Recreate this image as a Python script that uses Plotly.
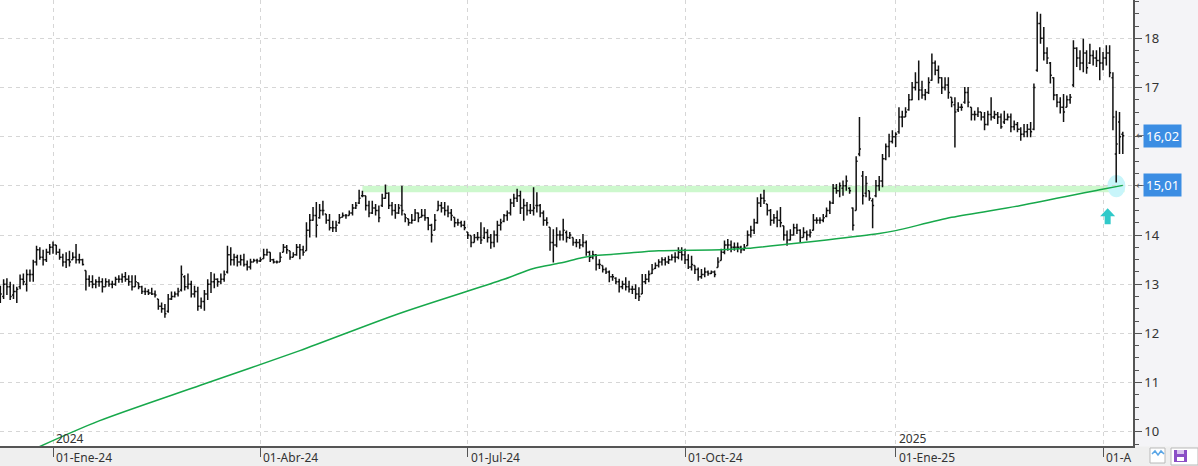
import plotly.graph_objects as go

# ---------------- data ----------------
opens = [
    12.9, 12.75, 13.0, 12.95, 12.78, 12.85, 12.95, 13.1, 13.0, 13.2,
    13.2, 13.45, 13.7, 13.55, 13.5, 13.65, 13.75, 13.8, 13.65, 13.55,
    13.45, 13.5, 13.5, 13.55, 13.5, 13.5, 13.28, 13.1, 13.05, 13.0,
    13.05, 13.05, 12.95, 13.05, 13.0, 13.0, 13.1, 13.1, 13.15, 13.1,
    13.05, 12.95, 13.03, 12.95, 12.85, 12.85, 12.82, 12.8, 12.7, 12.55,
    12.5, 12.45, 12.7, 12.75, 12.8, 12.88, 13.15, 12.95, 13.0, 12.8,
    12.85, 12.55, 12.65, 12.8, 13.0, 13.05, 13.1, 13.05, 13.1, 13.25,
    13.6, 13.5, 13.55, 13.45, 13.5, 13.4, 13.35, 13.45, 13.48, 13.47,
    13.52, 13.6, 13.65, 13.5, 13.45, 13.45, 13.65, 13.75, 13.68, 13.55,
    13.6, 13.75, 13.7, 13.68, 14.1, 14.3, 14.4, 14.35, 14.5, 14.43,
    14.3, 14.15, 14.15, 14.25, 14.36, 14.4, 14.4, 14.45, 14.55, 14.65,
    14.8, 14.8, 14.6, 14.45, 14.55, 14.5, 14.6, 14.75, 14.85, 14.6,
    14.5, 14.45, 14.6, 14.43, 14.33, 14.25, 14.3, 14.45, 14.36, 14.4,
    14.35, 14.2, 14.1, 14.5, 14.6, 14.55, 14.5, 14.45, 14.36, 14.25,
    14.25, 14.2, 14.06, 13.99, 13.85, 13.95, 13.95, 13.95, 14.05, 13.95,
    13.85, 14.0, 14.2, 14.28, 14.4, 14.45, 14.65, 14.75, 14.8, 14.55,
    14.6, 14.5, 14.5, 14.6, 14.6, 14.45, 14.3, 14.16, 13.85, 13.8,
    14.0, 14.0, 14.05, 13.95, 13.95, 13.85, 13.85, 13.8, 13.85, 13.65,
    13.55, 13.6, 13.4, 13.38, 13.3, 13.25, 13.15, 13.12, 13.05, 12.95,
    13.0, 12.95, 12.9, 12.9, 12.8, 12.8, 13.05, 13.1, 13.22, 13.32,
    13.38, 13.45, 13.5, 13.45, 13.5, 13.55, 13.55, 13.65, 13.6, 13.5,
    13.35, 13.38, 13.3, 13.15, 13.2, 13.25, 13.22, 13.25, 13.34, 13.48,
    13.65, 13.8, 13.8, 13.75, 13.75, 13.75, 13.7, 13.78, 14.0, 14.1,
    14.25, 14.65, 14.75, 14.63, 14.5, 14.3, 14.35, 14.3, 14.19, 14.0,
    13.9, 14.0, 14.15, 14.1, 13.95, 14.05, 14.0, 14.1, 14.3, 14.3,
    14.3, 14.38, 14.5, 14.65, 14.95, 14.9, 14.95, 15.0, 14.95, 14.55,
    14.5, 15.65, 15.2, 14.85, 14.9, 14.7, 14.8, 15.0, 15.1, 15.55,
    15.8, 15.9, 16.0, 16.1, 16.4, 16.4, 16.55, 16.75, 17.0, 17.1,
    16.95, 16.85, 16.9, 17.15, 17.5, 17.35, 17.2, 17.0, 17.05, 16.8,
    16.65, 16.55, 16.6, 16.7, 16.9, 16.6, 16.45, 16.45, 16.5, 16.4,
    16.25, 16.45, 16.4, 16.45, 16.4, 16.3, 16.35, 16.4, 16.2, 16.25,
    16.15, 16.05, 16.1, 16.15, 16.15, 17.35, 18.3, 18.0, 17.7, 17.5,
    17.2, 16.85, 16.7, 16.6, 16.6, 16.75, 17.05, 17.8, 17.6, 17.5,
    17.7, 17.5, 17.65, 17.6, 17.55, 17.5, 17.6, 17.7, 17.2, 15.65,
    16.3, 16.05,
]
highs = [
    12.97, 13.1, 13.12, 13.05, 13.0, 12.95, 13.2, 13.22, 13.3, 13.3,
    13.5, 13.78, 13.75, 13.7, 13.72, 13.82, 13.87, 13.8, 13.72, 13.62,
    13.65, 13.68, 13.65, 13.82, 13.62, 13.52, 13.28, 13.18, 13.18, 13.1,
    13.15, 13.12, 13.12, 13.1, 13.07, 13.15, 13.18, 13.22, 13.25, 13.18,
    13.18, 13.18, 13.03, 12.97, 12.93, 12.9, 12.93, 12.87, 12.7, 12.63,
    12.6, 12.8, 12.85, 12.85, 12.93, 13.38, 13.18, 13.22, 13.07, 12.97,
    12.95, 12.73, 12.88, 13.1, 13.25, 13.22, 13.12, 13.22, 13.28, 13.78,
    13.75, 13.62, 13.6, 13.6, 13.62, 13.48, 13.52, 13.52, 13.52, 13.55,
    13.72, 13.72, 13.65, 13.52, 13.48, 13.65, 13.82, 13.8, 13.68, 13.65,
    13.82, 13.82, 13.78, 14.26, 14.43, 14.57, 14.67, 14.63, 14.7, 14.43,
    14.43, 14.29, 14.29, 14.43, 14.46, 14.43, 14.5, 14.63, 14.67, 14.92,
    14.9, 14.8, 14.7, 14.7, 14.63, 14.6, 14.84, 15.03, 14.87, 14.67,
    14.63, 14.63, 15.0, 14.43, 14.33, 14.43, 14.53, 14.46, 14.53, 14.53,
    14.36, 14.23, 14.43, 14.7, 14.67, 14.67, 14.6, 14.53, 14.36, 14.33,
    14.29, 14.29, 14.06, 13.99, 14.02, 14.06, 14.26, 14.16, 14.12, 14.02,
    14.09, 14.29, 14.33, 14.43, 14.5, 14.74, 14.84, 14.94, 14.9, 14.74,
    14.67, 14.63, 14.97, 14.87, 14.63, 14.5, 14.36, 14.16, 14.12, 14.16,
    14.09, 14.33, 14.09, 14.06, 13.95, 13.92, 13.92, 14.02, 13.89, 13.68,
    13.68, 13.61, 13.51, 13.38, 13.34, 13.28, 13.21, 13.14, 13.11, 13.07,
    13.14, 13.07, 12.97, 13.0, 12.94, 13.21, 13.21, 13.28, 13.41, 13.44,
    13.51, 13.55, 13.55, 13.58, 13.61, 13.65, 13.75, 13.75, 13.72, 13.61,
    13.58, 13.38, 13.34, 13.31, 13.34, 13.28, 13.28, 13.28, 13.55, 13.72,
    13.89, 13.92, 13.89, 13.85, 13.85, 13.78, 13.82, 14.09, 14.19, 14.33,
    14.77, 14.84, 14.92, 14.63, 14.53, 14.43, 14.5, 14.57, 14.19, 14.09,
    14.12, 14.23, 14.23, 14.12, 14.16, 14.09, 14.12, 14.43, 14.36, 14.36,
    14.43, 14.56, 14.7, 15.04, 15.04, 15.07, 15.11, 15.21, 14.97, 14.56,
    15.6, 16.4, 15.3, 15.2, 14.9, 14.75, 15.12, 15.2, 15.65, 15.86,
    16.06, 16.13, 16.09, 16.6, 16.53, 16.6, 16.87, 17.11, 17.31, 17.55,
    17.14, 16.97, 17.21, 17.69, 17.55, 17.45, 17.21, 17.21, 17.21, 16.8,
    16.8, 16.7, 16.67, 17.01, 17.01, 16.6, 16.53, 16.6, 16.5, 16.5,
    16.53, 16.8, 16.53, 16.5, 16.47, 16.53, 16.47, 16.47, 16.33, 16.3,
    16.19, 16.26, 16.26, 16.3, 17.08, 18.54, 18.5, 18.23, 17.82, 17.52,
    17.21, 16.87, 16.8, 16.87, 16.84, 16.87, 17.96, 17.82, 17.76, 17.99,
    17.76, 17.89, 17.76, 17.76, 17.82, 17.72, 17.86, 17.86, 17.31, 16.53,
    16.5, 16.1,
]
lows = [
    12.62, 12.7, 12.78, 12.68, 12.7, 12.62, 12.9, 12.98, 12.85, 13.05,
    13.05, 13.38, 13.5, 13.38, 13.45, 13.6, 13.62, 13.6, 13.5, 13.36,
    13.33, 13.36, 13.5, 13.42, 13.42, 13.38, 12.87, 12.95, 12.92, 12.92,
    12.95, 12.83, 12.95, 12.95, 12.92, 12.97, 13.03, 13.03, 13.05, 12.97,
    12.87, 12.95, 12.9, 12.8, 12.78, 12.78, 12.78, 12.73, 12.48, 12.42,
    12.32, 12.42, 12.68, 12.73, 12.75, 12.85, 12.87, 12.9, 12.73, 12.73,
    12.46, 12.5, 12.46, 12.68, 12.82, 12.92, 12.95, 13.0, 13.05, 13.22,
    13.38, 13.38, 13.36, 13.38, 13.36, 13.28, 13.3, 13.45, 13.42, 13.45,
    13.52, 13.58, 13.45, 13.42, 13.42, 13.45, 13.65, 13.62, 13.5, 13.55,
    13.58, 13.51, 13.58, 13.68, 13.95, 14.29, 13.95, 14.33, 14.4, 14.23,
    14.09, 14.06, 14.06, 14.23, 14.36, 14.33, 14.4, 14.4, 14.53, 14.63,
    14.77, 14.5, 14.36, 14.43, 14.4, 14.26, 14.57, 14.74, 14.53, 14.4,
    14.33, 14.43, 14.4, 14.26, 14.19, 14.23, 14.29, 14.26, 14.36, 14.29,
    14.1, 13.85, 14.1, 14.5, 14.46, 14.4, 14.36, 14.29, 14.16, 14.19,
    14.16, 14.1, 13.92, 13.75, 13.85, 13.89, 13.82, 13.92, 13.85, 13.72,
    13.75, 13.85, 14.09, 14.26, 14.29, 14.4, 14.57, 14.67, 14.43, 14.29,
    14.4, 14.43, 14.4, 14.46, 14.36, 14.19, 14.19, 13.68, 13.44, 13.75,
    13.89, 13.89, 13.85, 13.92, 13.78, 13.75, 13.72, 13.75, 13.58, 13.45,
    13.51, 13.28, 13.31, 13.24, 13.21, 13.04, 13.07, 13.0, 12.83, 12.9,
    12.87, 12.83, 12.8, 12.7, 12.66, 12.8, 13.0, 13.04, 13.21, 13.31,
    13.34, 13.38, 13.38, 13.41, 13.48, 13.44, 13.51, 13.48, 13.41, 13.31,
    13.28, 13.21, 13.07, 13.11, 13.14, 13.17, 13.21, 13.14, 13.34, 13.48,
    13.61, 13.68, 13.65, 13.68, 13.65, 13.63, 13.68, 13.78, 13.95, 14.02,
    14.23, 14.57, 14.63, 14.4, 14.19, 14.23, 14.16, 14.16, 13.89, 13.78,
    13.89, 13.99, 14.02, 13.85, 13.95, 13.89, 13.95, 14.09, 14.23, 14.23,
    14.26, 14.36, 14.43, 14.63, 14.84, 14.77, 14.8, 14.9, 14.84, 14.09,
    14.5, 15.6, 14.62, 14.77, 14.7, 14.14, 14.77, 14.9, 14.97, 15.52,
    15.58, 15.86, 15.79, 16.06, 16.19, 16.4, 16.53, 16.74, 16.94, 16.74,
    16.77, 16.74, 16.87, 17.14, 17.25, 17.08, 16.87, 16.94, 16.77, 16.6,
    15.78, 16.5, 16.53, 16.67, 16.6, 16.33, 16.33, 16.4, 16.33, 16.13,
    16.23, 16.33, 16.36, 16.26, 16.16, 16.26, 16.33, 16.09, 16.13, 16.09,
    15.92, 15.99, 15.99, 15.99, 16.13, 17.32, 17.89, 17.55, 17.48, 17.08,
    16.74, 16.6, 16.47, 16.3, 16.6, 16.67, 17.01, 17.42, 17.35, 17.31,
    17.28, 17.48, 17.45, 17.42, 17.15, 17.35, 17.45, 17.21, 16.13, 15.07,
    15.65, 15.65,
]
closes = [
    12.8, 13.0, 12.95, 12.75, 12.85, 12.9, 13.1, 13.05, 13.2, 13.2,
    13.45, 13.7, 13.55, 13.5, 13.65, 13.75, 13.8, 13.65, 13.55, 13.45,
    13.5, 13.45, 13.55, 13.5, 13.5, 13.4, 13.1, 13.05, 13.0, 13.05,
    13.05, 12.95, 13.05, 13.0, 13.0, 13.1, 13.1, 13.15, 13.1, 13.05,
    12.95, 13.05, 12.95, 12.85, 12.85, 12.82, 12.8, 12.78, 12.55, 12.5,
    12.4, 12.7, 12.75, 12.8, 12.85, 13.2, 12.95, 13.0, 12.8, 12.85,
    12.55, 12.65, 12.8, 13.0, 13.05, 13.1, 13.05, 13.1, 13.2, 13.6,
    13.5, 13.55, 13.45, 13.5, 13.4, 13.35, 13.45, 13.48, 13.47, 13.5,
    13.6, 13.65, 13.5, 13.45, 13.45, 13.55, 13.75, 13.7, 13.55, 13.6,
    13.75, 13.7, 13.65, 14.1, 14.3, 14.4, 14.2, 14.5, 14.5, 14.3,
    14.15, 14.15, 14.2, 14.35, 14.4, 14.4, 14.45, 14.55, 14.6, 14.75,
    14.8, 14.6, 14.45, 14.55, 14.5, 14.35, 14.75, 14.85, 14.6, 14.5,
    14.45, 14.55, 14.5, 14.35, 14.25, 14.3, 14.45, 14.35, 14.4, 14.35,
    14.2, 14.0, 14.3, 14.6, 14.55, 14.5, 14.45, 14.4, 14.25, 14.25,
    14.2, 14.15, 14.0, 13.85, 13.95, 13.95, 13.9, 14.05, 13.95, 13.85,
    14.0, 14.2, 14.25, 14.4, 14.45, 14.65, 14.75, 14.8, 14.55, 14.6,
    14.5, 14.5, 14.55, 14.6, 14.45, 14.3, 14.25, 13.85, 13.8, 14.0,
    14.0, 14.1, 13.95, 14.0, 13.85, 13.85, 13.8, 13.85, 13.65, 13.55,
    13.6, 13.4, 13.4, 13.3, 13.25, 13.15, 13.15, 13.05, 12.95, 13.0,
    12.95, 12.9, 12.9, 12.8, 12.75, 13.05, 13.1, 13.2, 13.3, 13.38,
    13.45, 13.5, 13.45, 13.5, 13.55, 13.55, 13.65, 13.6, 13.5, 13.35,
    13.4, 13.3, 13.15, 13.2, 13.25, 13.22, 13.25, 13.2, 13.45, 13.65,
    13.8, 13.8, 13.75, 13.75, 13.75, 13.7, 13.75, 14.0, 14.1, 14.25,
    14.65, 14.75, 14.7, 14.5, 14.3, 14.35, 14.3, 14.25, 14.0, 13.9,
    14.0, 14.15, 14.1, 13.95, 14.05, 14.0, 14.05, 14.3, 14.3, 14.3,
    14.35, 14.5, 14.65, 14.95, 14.9, 15.0, 15.0, 15.1, 14.9, 14.2,
    15.5, 15.75, 14.8, 15.05, 14.75, 14.6, 15.0, 15.1, 15.55, 15.8,
    15.9, 16.0, 16.05, 16.4, 16.4, 16.5, 16.75, 17.0, 17.1, 16.95,
    16.85, 16.9, 17.1, 17.5, 17.35, 17.2, 17.0, 17.05, 16.9, 16.7,
    16.5, 16.6, 16.6, 16.9, 16.7, 16.45, 16.45, 16.5, 16.4, 16.25,
    16.45, 16.4, 16.45, 16.4, 16.2, 16.35, 16.4, 16.2, 16.25, 16.15,
    16.05, 16.1, 16.15, 16.1, 17.0, 18.3, 18.0, 17.7, 17.6, 17.25,
    16.85, 16.7, 16.6, 16.5, 16.75, 16.8, 17.8, 17.6, 17.5, 17.7,
    17.4, 17.65, 17.6, 17.55, 17.5, 17.6, 17.7, 17.3, 16.4, 15.85,
    16.0, 16.02,
]
bar_idx = list(range(len(closes)))

# 200-session moving average (read at sample bars)
ma_idx = [11, 30, 61, 91, 121, 153, 162, 170, 176, 179, 190, 200, 219, 227,
          241, 251, 267, 272, 289, 310, 334, 341]
ma_val = [9.67, 10.22, 10.95, 11.65, 12.4, 13.1, 13.32, 13.43, 13.53, 13.57,
          13.63, 13.68, 13.7, 13.73, 13.83, 13.9, 14.03, 14.09, 14.36, 14.6,
          14.92, 15.01]

# support band
band_start, band_end = 110, 341
band_lo, band_hi = 14.87, 15.0

# x axis ticks (first session of each quarter)
tick_idx = [16, 79, 142, 208, 272, 335]
tick_text = ["01-Ene-24", "01-Abr-24", "01-Jul-24", "01-Oct-24", "01-Ene-25", "01-A"]
year_idx = [16, 272]
year_text = ["2024", "2025"]

y_ticks = [10, 11, 12, 13, 14, 15, 16, 17, 18]

# ---------------- figure ----------------
W, H = 1198, 466
PW, PH = 1133, 446  # plot area size in px

def xp(px):
    return px / PW

def yp(py):
    return (PH - py) / PH

FONT = "Noto Sans, Open Sans, DejaVu Sans, sans-serif"
BAR = "#111111"
GRID = "#d6d6d6"
AXIS = "#555555"

last_close = closes[-1]
last_ma = ma_val[-1]
label_vals = [last_close, last_ma]
# axis labels hidden behind the price boxes (as in the reference)
y_ticktext = ["" if any(abs(t - v) < 0.3 for v in label_vals) else str(t) for t in y_ticks]

fig = go.Figure()
fig.add_trace(go.Ohlc(
    x=bar_idx, open=opens, high=highs, low=lows, close=closes,
    increasing=dict(line=dict(color=BAR, width=1.5)),
    decreasing=dict(line=dict(color=BAR, width=1.5)),
    tickwidth=0.45, hoverinfo="skip", showlegend=False,
))
fig.add_trace(go.Scatter(
    x=ma_idx, y=ma_val, mode="lines",
    line=dict(color="#17a84b", width=1.5, shape="spline", smoothing=0.8),
    hoverinfo="skip", showlegend=False,
))

shapes = []
# bottom strip
shapes.append(dict(type="rect", xref="paper", yref="paper",
                   x0=0, x1=xp(W), y0=yp(H), y1=yp(PH + 0.5),
                   fillcolor="#efefef", line=dict(width=0), layer="below"))
# support band
shapes.append(dict(type="rect", xref="x", yref="y",
                   x0=band_start, x1=band_end + 0.5, y0=band_lo, y1=band_hi,
                   fillcolor="#cdf8cd", line=dict(width=0), layer="below"))
# glow at the low
shapes.append(dict(type="circle", xref="x", yref="y",
                   x0=336.3, x1=341.8, y0=14.77, y1=15.22,
                   fillcolor="#c8f5fa", line=dict(width=0), layer="below"))
# cyan up arrow
shapes.append(dict(type="path", xref="x", yref="y",
                   xsizemode="pixel", ysizemode="pixel",
                   xanchor=336.4, yanchor=14.38,
                   path="M -7.5 0 L 0 8 L 7.5 0 L 3 0 L 3 -8 L -3 -8 L -3 0 Z",
                   fillcolor="#30c9c9", line=dict(width=0)))
# bottom-right toolbar icons
shapes.append(dict(type="rect", xref="paper", yref="paper",
                   x0=xp(1150), x1=xp(1165), y0=yp(463), y1=yp(448),
                   fillcolor="#ffffff", line=dict(color="#b9b9b9", width=1)))
shapes.append(dict(type="path", xref="paper", yref="paper",
                   path="M {} {} L {} {} L {} {} L {} {} L {} {}".format(
                       xp(1152), yp(454), xp(1155), yp(451), xp(1158), yp(455),
                       xp(1161), yp(451), xp(1164), yp(454)),
                   line=dict(color="#5aa6e6", width=1.5)))
shapes.append(dict(type="rect", xref="paper", yref="paper",
                   x0=xp(1171), x1=xp(1198), y0=yp(465), y1=yp(448),
                   fillcolor="#ffffff", line=dict(color="#b9b9b9", width=1)))
shapes.append(dict(type="rect", xref="paper", yref="paper",
                   x0=xp(1174), x1=xp(1187), y0=yp(462), y1=yp(450),
                   fillcolor="#8b4fc6", line=dict(width=0)))
shapes.append(dict(type="rect", xref="paper", yref="paper",
                   x0=xp(1177), x1=xp(1184), y0=yp(461), y1=yp(457),
                   fillcolor="#ffffff", line=dict(width=0)))
shapes.append(dict(type="rect", xref="paper", yref="paper",
                   x0=xp(1177), x1=xp(1184), y0=yp(454), y1=yp(450),
                   fillcolor="#d9c4ef", line=dict(width=0)))

annotations = []
for i, t in zip(tick_idx, tick_text):
    annotations.append(dict(x=i, xref="x", y=yp(457), yref="paper", text=t,
                            showarrow=False, xanchor="left", yanchor="middle",
                            xshift=1, font=dict(family=FONT, size=12, color="#333333")))
for i, t in zip(year_idx, year_text):
    annotations.append(dict(x=i, xref="x", y=yp(438.5), yref="paper", text=t,
                            showarrow=False, xanchor="left", yanchor="middle",
                            xshift=1, font=dict(family=FONT, size=12, color="#333333")))

for v in label_vals:
    annotations.append(dict(x=xp(1143), xref="paper", y=v, yref="y",
                            text=f"{v:.2f}".replace(".", ","), showarrow=False,
                            xanchor="left", yanchor="middle", bgcolor="#3b8de3",
                            borderpad=2, font=dict(family=FONT, size=13, color="#ffffff")))
    annotations.append(dict(x=xp(1134), xref="paper", y=v, yref="y", text="←",
                            showarrow=False, xanchor="left", yanchor="middle",
                            font=dict(family="DejaVu Sans", size=10, color="#555555")))

fig.update_layout(
    width=W, height=H,
    margin=dict(l=0, r=W - PW, t=0, b=H - PH),
    paper_bgcolor="#f4f4f7", plot_bgcolor="#ffffff",
    showlegend=False, shapes=shapes, annotations=annotations,
    font=dict(family=FONT, color="#333333"),
    xaxis=dict(range=[-0.1, 344.1], tickmode="array", tickvals=tick_idx,
               ticktext=[""] * len(tick_idx), showticklabels=False,
               ticks="outside", ticklen=9, tickcolor=AXIS, tickwidth=1,
               showgrid=True, gridcolor=GRID, griddash="4px,4px", gridwidth=1,
               showline=True, linecolor=AXIS, linewidth=1.5, zeroline=False,
               rangeslider=dict(visible=False), automargin=False, fixedrange=True),
    yaxis=dict(side="right", range=[9.71, 18.78], tickmode="array", tickvals=y_ticks,
               ticktext=y_ticktext,
               ticks="outside", ticklen=7, tickcolor=AXIS, tickwidth=1,
               tickfont=dict(family=FONT, size=13, color="#333333"),
               showgrid=True, gridcolor=GRID, griddash="4px,4px", gridwidth=1,
               showline=True, linecolor=AXIS, linewidth=1.5, zeroline=False,
               minor=dict(tick0=10, dtick=0.25, ticks="outside", ticklen=4,
                          tickcolor=AXIS, showgrid=False),
               automargin=False, fixedrange=True),
)

fig.write_html("out.html")
